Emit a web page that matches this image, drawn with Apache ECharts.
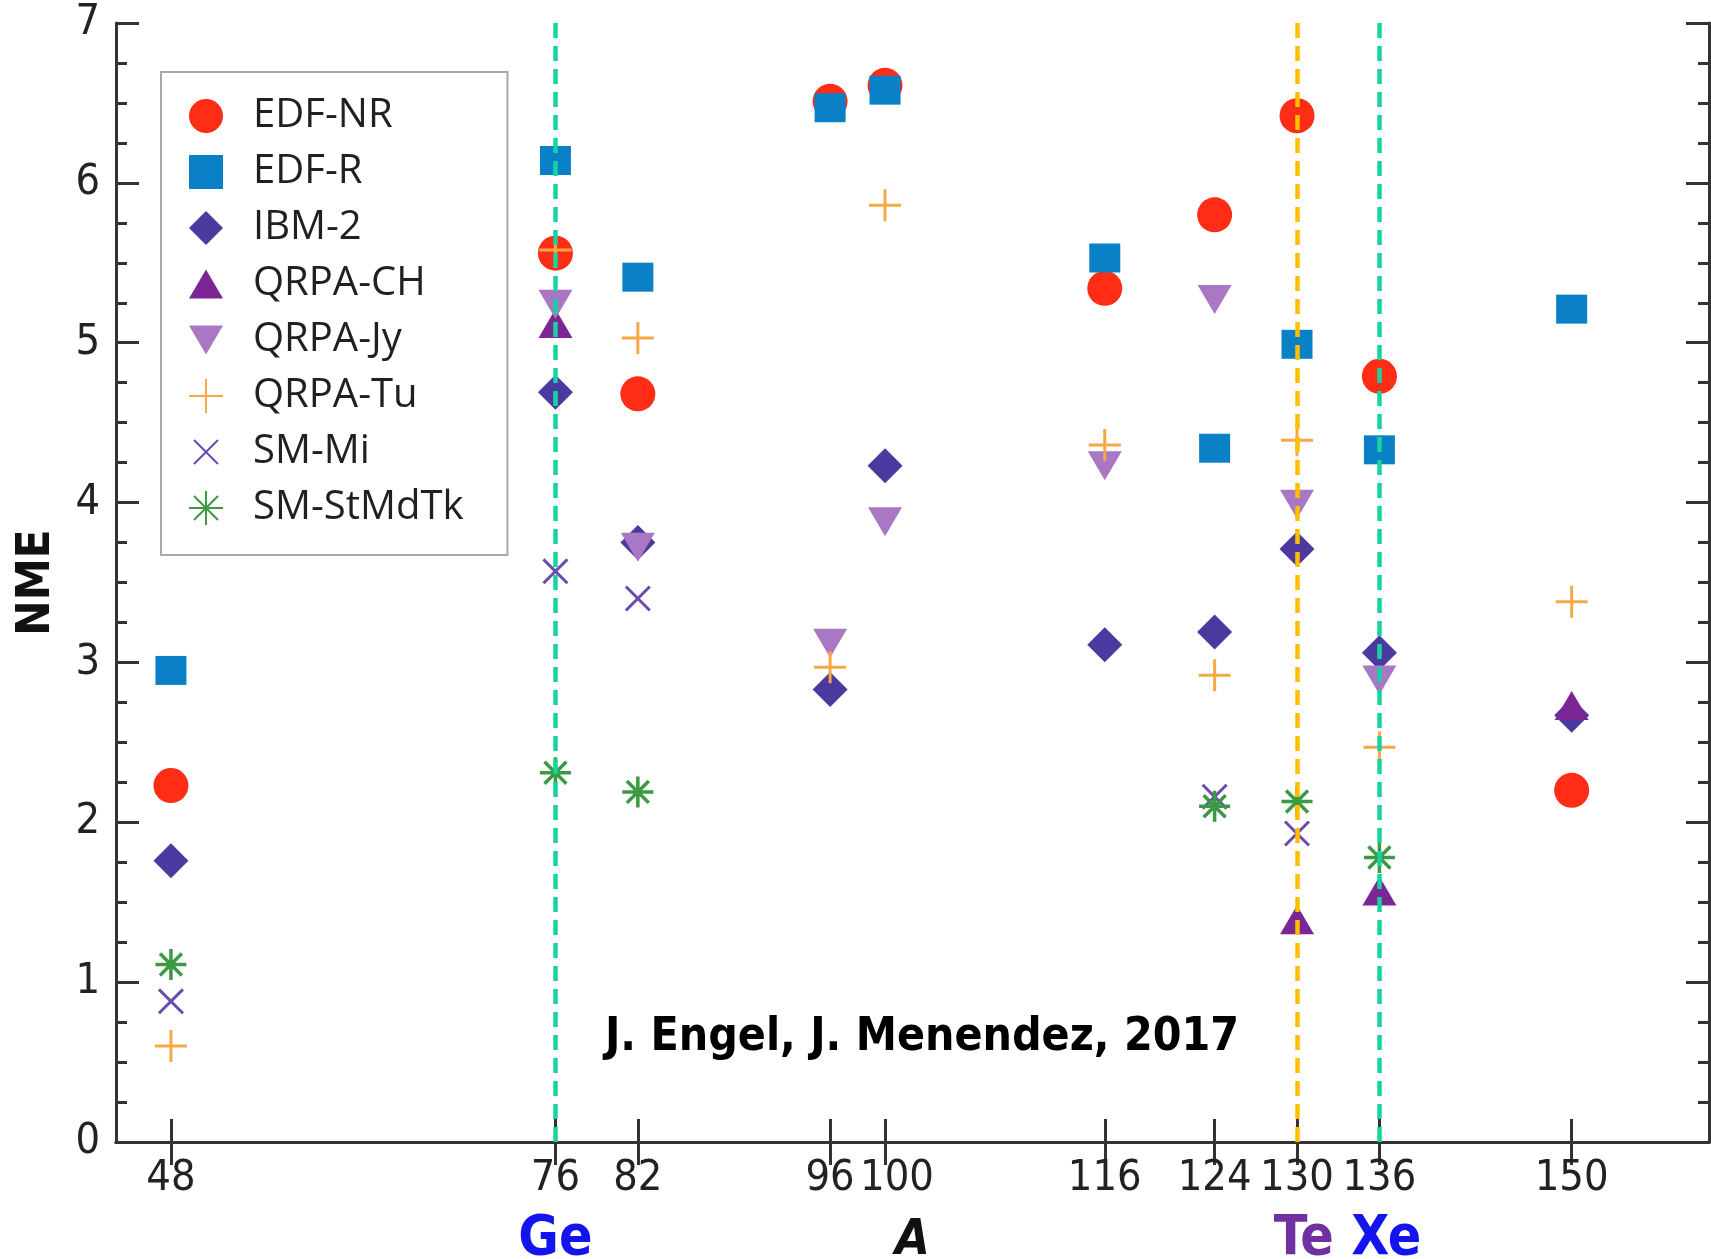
<!DOCTYPE html>
<html>
<head>
<meta charset="utf-8">
<title>NME vs A</title>
<script src="https://cdn.jsdelivr.net/npm/echarts@6/dist/echarts.min.js"></script>
<style>
    html, body { margin: 0; padding: 0; background: #fff; }
    #main { width: 1711px; height: 1259px; }
</style>
</head>
<body>
<div id="main"></div>
<script>
// mass number A of each nucleus (x axis ticks)
var massTicks = [48, 76, 82, 96, 100, 116, 124, 130, 136, 150];

// NME values, aligned with massTicks (null = no point)
var edfNR  = [2.23, 5.56, 4.68, 6.51, 6.61, 5.34, 5.80, 6.42, 4.79, 2.20];
var edfR   = [2.95, 6.14, 5.41, 6.47, 6.58, 5.53, 4.34, 4.99, 4.33, 5.21];
var ibm2   = [1.76, 4.69, 3.75, 2.83, 4.23, 3.11, 3.19, 3.71, 3.06, 2.67];
var qrpaCH = [null, 5.12, null, null, null, null, null, 1.39, 1.57, 2.73];
var qrpaJy = [null, 5.24, 3.72, 3.12, 3.88, 4.23, 5.27, 3.99, 2.89, null];
var qrpaTu = [0.60, 5.58, 5.03, 2.97, 5.86, 4.36, 2.92, 4.39, 2.47, 3.38];
var smMi   = [0.88, 3.57, 3.40, null, null, null, 2.16, 1.93, null, null];
var smStMdTk = [1.11, 2.31, 2.19, null, null, null, 2.10, 2.13, 1.78, null];

// marked nuclei (dashed guides + element names under the axis)
var elementA = [76, 130, 136];
var elementLabelAt = [76, 130.5, 136.5];
var elementNames = ['Ge', 'Te', 'Xe'];
var guideColors = ['#17d3a1', '#ffbe00', '#17d3a1'];

// marker shapes
var TRI_UP = 'path://M17,0L34,29L0,29Z';
var TRI_DOWN = 'path://M0,0L34,0L17,29Z';
var PLUS = 'path://M0,10H20M10,0V20';
var CROSS = 'path://M-4.2,-4.2M24.2,24.2M0,0L20,20M20,0L0,20';
var STAR = 'path://M0,10H20M10,0V20M2.93,2.93L17.07,17.07M17.07,2.93L2.93,17.07';

function pairs(vals) {
    var out = [];
    for (var i = 0; i < massTicks.length; i++) {
        if (vals[i] != null) out.push([massTicks[i], vals[i]]);
    }
    return out;
}

function filled(name, vals, symbol, size, color) {
    return {
        name: name, type: 'scatter', data: pairs(vals),
        symbol: symbol, symbolSize: size, symbolKeepAspect: true,
        itemStyle: { color: color, opacity: 1 },
        emphasis: { disabled: true }
    };
}
function stroked(name, vals, symbol, size, color, w) {
    return {
        name: name, type: 'scatter', data: pairs(vals),
        symbol: symbol, symbolSize: size, symbolKeepAspect: true,
        itemStyle: { color: 'rgba(0,0,0,0)', borderColor: color, borderWidth: w, opacity: 1 },
        emphasis: { disabled: true }
    };
}

var axisCol = '#333';
var numFont = '"DejaVu Sans Condensed", "DejaVu Sans", sans-serif';
var boldFont = '"DejaVu Sans Condensed", "DejaVu Sans", sans-serif';

var guideLines = elementA.map(function (a, i) {
    return { xAxis: a, lineStyle: { color: guideColors[i] } };
});

var legendNames = ['EDF-NR', 'EDF-R', 'IBM-2', 'QRPA-CH', 'QRPA-Jy', 'QRPA-Tu', 'SM-Mi', 'SM-StMdTk'];

var chart = echarts.init(document.getElementById('main'));
var option = {
    animation: false,
    backgroundColor: '#fff',
    grid: { left: 116, right: 2, top: 23, bottom: 117, containLabel: false, outerBoundsMode: 'none' },
    legend: {
        data: legendNames,
        orient: 'vertical',
        left: 161, top: 72,
        padding: [24, 44, 27, 27],
        itemWidth: 34, itemHeight: 34, itemGap: 16,
        borderColor: '#a8a8a8', borderWidth: 2,
        selectedMode: false,
        textStyle: { fontFamily: '"Open Sans", sans-serif', fontSize: 40, color: '#231f20', padding: [0, 0, 0, 25] }
    },
    xAxis: [{
        type: 'value', min: 44, max: 160, position: 'bottom',
        name: 'A', nameLocation: 'middle', nameGap: 74,
        nameTextStyle: { fontFamily: boldFont, fontSize: 50, fontWeight: 'bold', fontStyle: 'italic', color: '#111' },
        splitLine: { show: false },
        axisLine: { lineStyle: { color: axisCol, width: 3 } },
        axisTick: { inside: true, length: 23, customValues: massTicks, lineStyle: { color: axisCol, width: 3 } },
        axisLabel: {
            customValues: massTicks, margin: 15, fontFamily: numFont, fontSize: 43, color: '#222',
            // nudge "100" right so it clears "96", as in the original figure
            formatter: function (v) { return v === 100 ? '{r|100}' : String(v); },
            rich: { r: { padding: [0, 0, 0, 24], fontFamily: numFont, fontSize: 43, color: '#222' } }
        }
    }, {
        type: 'value', min: 44, max: 160, position: 'top',
        splitLine: { show: false },
        axisLine: { lineStyle: { color: axisCol, width: 3 } },
        axisTick: { inside: true, length: 23, customValues: massTicks, lineStyle: { color: axisCol, width: 3 } },
        axisLabel: { show: false }
    }, {
        type: 'value', min: 44, max: 160, position: 'bottom',
        splitLine: { show: false },
        axisLine: { show: false },
        axisTick: { show: false },
        axisLabel: {
            customValues: elementLabelAt, margin: 70,
            fontFamily: boldFont, fontSize: 55, fontWeight: 'bold',
            formatter: function (v) {
                var n = elementNames[elementLabelAt.indexOf(v)];
                return '{' + n + '|' + n + '}';
            },
            rich: {
                Ge: { color: '#1414ee', fontFamily: boldFont, fontSize: 55, fontWeight: 'bold' },
                Te: { color: '#7030a0', fontFamily: boldFont, fontSize: 55, fontWeight: 'bold' },
                Xe: { color: '#1414ee', fontFamily: boldFont, fontSize: 55, fontWeight: 'bold' }
            }
        }
    }],
    yAxis: [{
        type: 'value', min: 0, max: 7, interval: 1, position: 'left',
        name: 'NME', nameLocation: 'middle', nameGap: 56,
        nameTextStyle: { fontFamily: boldFont, fontSize: 47, fontWeight: 'bold', color: '#111' },
        splitLine: { show: false },
        axisLine: { lineStyle: { color: axisCol, width: 3 } },
        axisTick: { inside: true, length: 23, lineStyle: { color: axisCol, width: 3 } },
        minorTick: { show: true, splitNumber: 4, length: 11, lineStyle: { color: axisCol, width: 3 } },
        axisLabel: { margin: 16, fontFamily: numFont, fontSize: 43, color: '#222' }
    }, {
        type: 'value', min: 0, max: 7, interval: 1, position: 'right',
        splitLine: { show: false },
        axisLine: { lineStyle: { color: axisCol, width: 3 } },
        axisTick: { inside: true, length: 23, lineStyle: { color: axisCol, width: 3 } },
        minorTick: { show: true, splitNumber: 4, length: 11, lineStyle: { color: axisCol, width: 3 } },
        axisLabel: { show: false }
    }],
    series: [
        filled('EDF-NR', edfNR, 'circle', 35, '#ff2d16'),
        filled('EDF-R', edfR, 'rect', [31, 29], '#0a80c6'),
        filled('IBM-2', ibm2, 'diamond', 35, '#4c399f'),
        filled('QRPA-CH', qrpaCH, TRI_UP, 34, '#7c2696'),
        filled('QRPA-Jy', qrpaJy, TRI_DOWN, 34, '#a977c4'),
        stroked('QRPA-Tu', qrpaTu, PLUS, 32, '#f7a846', 3),
        stroked('SM-Mi', smMi, CROSS, 34, '#6a4bb0', 3),
        stroked('SM-StMdTk', smStMdTk, STAR, 31, '#3b9a42', 3.5),
        {
            name: 'guides', type: 'scatter', data: [], z: 10, silent: true,
            markLine: {
                silent: true, symbol: 'none', animation: false,
                label: { show: false },
                lineStyle: { type: [15, 8], width: 4.5 },
                data: guideLines
            }
        }
    ],
    graphic: [{
        type: 'text', x: 922, y: 1038, silent: true,
        style: {
            text: 'J. Engel, J. Menendez, 2017',
            fontFamily: boldFont, fontSize: 46, fontWeight: 'bold',
            fill: '#000', align: 'center', verticalAlign: 'middle'
        }
    }]
};
chart.setOption(option);
</script>
</body>
</html>
